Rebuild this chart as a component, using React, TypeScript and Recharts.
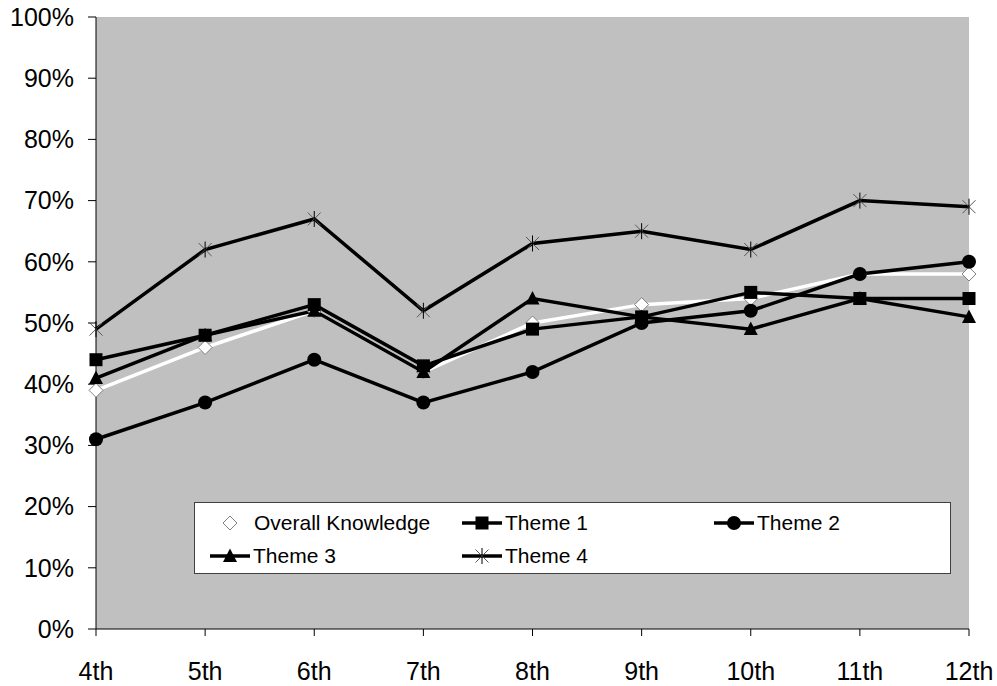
import { LineChart, Line, XAxis, YAxis, CartesianGrid } from "recharts"

// knowledge scores by grade, in percent
const grades = ["4th", "5th", "6th", "7th", "8th", "9th", "10th", "11th", "12th"]
const overall = [39, 46, 52, 42, 50, 53, 54, 58, 58]
const theme1 = [44, 48, 53, 43, 49, 51, 55, 54, 54]
const theme2 = [31, 37, 44, 37, 42, 50, 52, 58, 60]
const theme3 = [41, 48, 52, 42, 54, 51, 49, 54, 51]
const theme4 = [49, 62, 67, 52, 63, 65, 62, 70, 69]
const yTicks = [0, 10, 20, 30, 40, 50, 60, 70, 80, 90, 100]

const data = grades.map((grade, i) => ({
  grade,
  overall: overall[i],
  theme1: theme1[i],
  theme2: theme2[i],
  theme3: theme3[i],
  theme4: theme4[i],
}))

type Shape = "diamond" | "square" | "circle" | "triangle" | "star"

function Marker({ shape, cx, cy }: { shape: Shape; cx: number; cy: number }) {
  switch (shape) {
    case "diamond":
      return (
        <polygon
          points={`${cx},${cy - 7} ${cx + 7},${cy} ${cx},${cy + 7} ${cx - 7},${cy}`}
          fill="#fff"
          stroke="#808080"
          strokeWidth={1}
        />
      )
    case "square":
      return <rect x={cx - 6.5} y={cy - 6.5} width={13} height={13} fill="#000" />
    case "circle":
      return <circle cx={cx} cy={cy} r={7} fill="#000" />
    case "triangle":
      return (
        <polygon
          points={`${cx},${cy - 7.5} ${cx + 7},${cy + 6} ${cx - 7},${cy + 6}`}
          fill="#000"
        />
      )
    case "star":
      return (
        <g>
          <line x1={cx - 6.5} y1={cy - 6.5} x2={cx + 6.5} y2={cy + 6.5} stroke="#555" strokeWidth={1} />
          <line x1={cx - 6.5} y1={cy + 6.5} x2={cx + 6.5} y2={cy - 6.5} stroke="#555" strokeWidth={1} />
          <line x1={cx} y1={cy - 8} x2={cx} y2={cy + 8} stroke="#000" strokeWidth={1} />
        </g>
      )
  }
}

const dotFor = (shape: Shape, name: string) => (p: any) => (
  <Marker key={`${name}-${p.index}`} shape={shape} cx={p.cx} cy={p.cy} />
)

const legendItems: { label: string; shape: Shape; line: boolean; col: number; row: number }[] = [
  { label: "Overall Knowledge", shape: "diamond", line: false, col: 0, row: 0 },
  { label: "Theme 1", shape: "square", line: true, col: 1, row: 0 },
  { label: "Theme 2", shape: "circle", line: true, col: 2, row: 0 },
  { label: "Theme 3", shape: "triangle", line: true, col: 0, row: 1 },
  { label: "Theme 4", shape: "star", line: true, col: 1, row: 1 },
]

// legend box sits inside the plot area, over the lower part
function ChartLegend() {
  return (
    <div
      style={{
        position: "absolute",
        left: 194,
        top: 502,
        width: 755,
        height: 70,
        background: "#fff",
        border: "1px solid #404040",
        fontSize: 21,
        color: "#000",
      }}
    >
      {legendItems.map((item) => (
        <div
          key={item.label}
          style={{
            position: "absolute",
            left: 15 + item.col * 252,
            top: 4 + item.row * 33,
            height: 32,
            display: "flex",
            alignItems: "center",
            whiteSpace: "nowrap",
          }}
        >
          <svg width={item.line ? 43 : 44} height={20} style={{ display: "block" }}>
            {item.line && <line x1={0} y1={10} x2={40} y2={10} stroke="#000" strokeWidth={3.5} />}
            <Marker shape={item.shape} cx={20} cy={10} />
          </svg>
          <span>{item.label}</span>
        </div>
      ))}
    </div>
  )
}

export default function App() {
  return (
    <div
      style={{
        position: "absolute",
        left: 0,
        top: 0,
        width: 997,
        height: 686,
        overflow: "hidden",
        fontFamily: '"Liberation Sans", Arial, sans-serif',
      }}
    >
      <LineChart width={997} height={686} data={data} margin={{ top: 17, right: 28, bottom: 0, left: 0 }}>
        <CartesianGrid fill="#c0c0c0" horizontal={false} vertical={false} />
        <XAxis
          dataKey="grade"
          height={57}
          tickSize={7}
          tickMargin={26}
          axisLine={{ stroke: "#000" }}
          tickLine={{ stroke: "#000" }}
          tick={{ fill: "#000", fontSize: 25 }}
          interval={0}
        />
        <YAxis
          width={96}
          domain={[0, 100]}
          ticks={yTicks}
          tickFormatter={(v) => `${v}%`}
          tickSize={8}
          tickMargin={14}
          axisLine={{ stroke: "#000" }}
          tickLine={{ stroke: "#000" }}
          tick={{ fill: "#000", fontSize: 25 }}
          interval={0}
        />
        <Line dataKey="overall" stroke="#fff" strokeWidth={3.5} dot={dotFor("diamond", "overall")} isAnimationActive={false} />
        <Line dataKey="theme1" stroke="#000" strokeWidth={3.5} dot={dotFor("square", "theme1")} isAnimationActive={false} />
        <Line dataKey="theme2" stroke="#000" strokeWidth={3.5} dot={dotFor("circle", "theme2")} isAnimationActive={false} />
        <Line dataKey="theme3" stroke="#000" strokeWidth={3.5} dot={dotFor("triangle", "theme3")} isAnimationActive={false} />
        <Line dataKey="theme4" stroke="#000" strokeWidth={3.5} dot={dotFor("star", "theme4")} isAnimationActive={false} />
      </LineChart>
      <ChartLegend />
    </div>
  )
}
